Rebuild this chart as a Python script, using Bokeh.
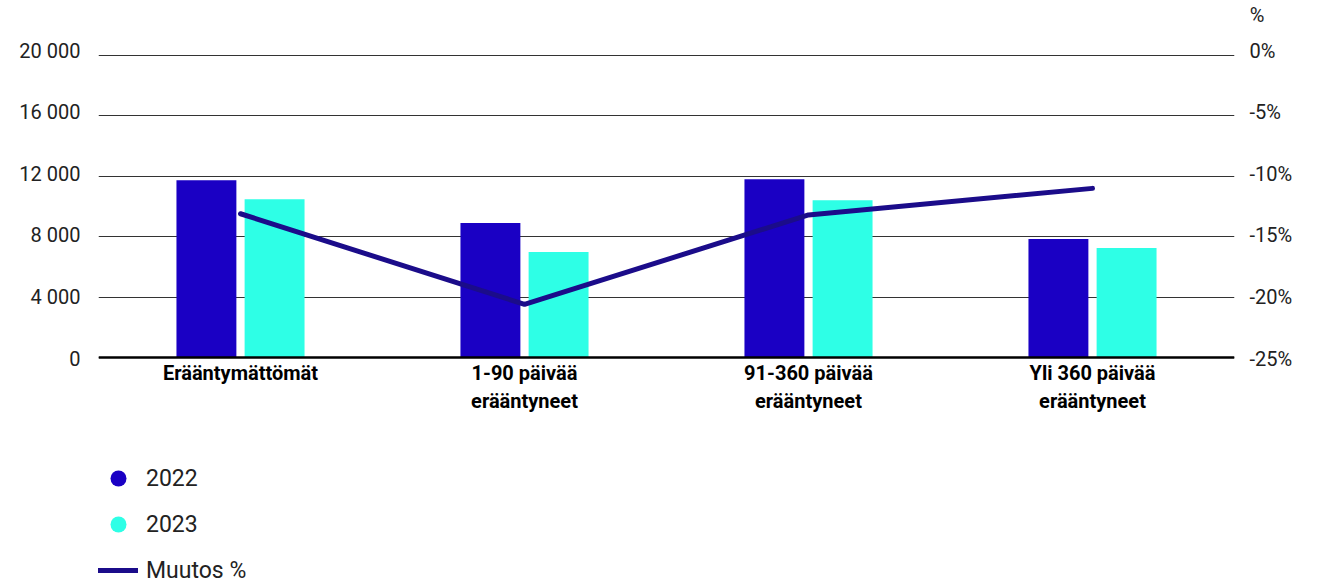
from bokeh.plotting import figure
from bokeh.models import (FactorRange, Range1d, LinearAxis, FixedTicker, Legend,
                          LegendItem, ColumnDataSource, Span)
from bokeh.core.properties import value
from bokeh.transform import dodge
from bokeh.embed import file_html
from bokeh.resources import INLINE

# ---- data ----
categories = ["Erääntymättömät", "1-90 päivää\nerääntyneet",
              "91-360 päivää\nerääntyneet", "Yli 360 päivää\nerääntyneet"]
values_2022 = [11740, 8900, 11800, 7840]
values_2023 = [10480, 6980, 10420, 7250]
change_pct = [-13.1, -20.6, -13.2, -11.0]
left_ticks = [0, 4000, 8000, 12000, 16000, 20000]
right_ticks = [-25, -20, -15, -10, -5, 0]
series_names = ["2022", "2023", "Muutos %"]

C2022 = "#1A00C4"
C2023 = "#2EFFE6"
CLINE = "#1B0C8A"
FONT = "Roboto"

# ---- layout constants (pixels) ----
W, H = 1325, 584
FRAME_TOP = 48
GRID_TOP_PX, GRID_ZERO_PX = 55, 357   # gridlines / bars / line
LBL_TOP_PX, LBL_ZERO_PX = 50, 358     # tick labels are spread slightly wider


def rng(lo, hi, top_px, zero_px):
    k = (zero_px - top_px) / (hi - lo)
    return Range1d(lo - (H - zero_px) / k, hi + (top_px - FRAME_TOP) / k)


source = ColumnDataSource(dict(cat=categories, v2022=values_2022,
                               v2023=values_2023, chg=change_pct))

p = figure(width=W, height=H,
           x_range=FactorRange(factors=categories, range_padding=0),
           y_range=rng(left_ticks[0], left_ticks[-1], GRID_TOP_PX, GRID_ZERO_PX),
           x_axis_location=None,
           output_backend="svg", toolbar_location=None,
           min_border_left=98, min_border_right=91,
           min_border_top=FRAME_TOP, min_border_bottom=0)
p.extra_y_ranges = {
    "pct": rng(right_ticks[0], right_ticks[-1], GRID_TOP_PX, GRID_ZERO_PX),
    "lbl": rng(left_ticks[0], left_ticks[-1], LBL_TOP_PX, LBL_ZERO_PX),
    "pctlbl": rng(right_ticks[0], right_ticks[-1], LBL_TOP_PX, LBL_ZERO_PX),
}
p.outline_line_color = None
p.background_fill_color = "white"
p.border_fill_color = "white"

# grid
p.xgrid.visible = False
p.ygrid.ticker = FixedTicker(ticks=left_ticks)
p.ygrid.grid_line_color = "#333333"
p.ygrid.grid_line_width = 1

# bars
p.vbar(x=dodge("cat", -0.12, range=p.x_range), top="v2022", bottom=0, width=0.211,
       source=source, fill_color=C2022, line_color=None)
p.vbar(x=dodge("cat", 0.12, range=p.x_range), top="v2023", bottom=0, width=0.211,
       source=source, fill_color=C2023, line_color=None)

# baseline
p.add_layout(Span(location=0, dimension="width", line_color="black", line_width=2.5))

line_r = p.line(x="cat", y="chg", y_range_name="pct", source=source,
                line_width=5, line_color=CLINE, line_cap="round", line_join="round")

# category labels under the baseline
p.text(x="cat", y=0, text="cat", source=source, y_offset=3,
       text_align="center", text_baseline="top",
       text_font=value(FONT), text_font_style="bold", text_font_size="20px",
       text_line_height=1.2, text_color="black")

# legend-only markers (size 0 on the plot; the legend draws its own circle)
s22 = p.scatter(x="cat", y="v2022", source=source, marker="circle", size=0,
                fill_color=C2022, line_color=None)
s23 = p.scatter(x="cat", y="v2023", source=source, marker="circle", size=0,
                fill_color=C2023, line_color=None)

legend = Legend(items=[LegendItem(label=series_names[0], renderers=[s22], index=0),
                       LegendItem(label=series_names[1], renderers=[s23], index=0),
                       LegendItem(label=series_names[2], renderers=[line_r])],
                location=(0, -7), orientation="vertical",
                glyph_width=40, glyph_height=42, label_height=42, spacing=4,
                padding=0, margin=0, label_standoff=8,
                border_line_color=None, background_fill_alpha=0,
                label_text_font=FONT, label_text_font_size="23px",
                label_text_color="#222222")
p.add_layout(legend)

# left axis
ya = p.yaxis[0]
ya.y_range_name = "lbl"
ya.ticker = FixedTicker(ticks=left_ticks)
ya.major_label_overrides = {t: f"{t:,}".replace(",", " ") for t in left_ticks}
ya.axis_line_color = None
ya.major_tick_line_color = None
ya.minor_tick_line_color = None
ya.major_label_standoff = 12
ya.major_label_text_font = FONT
ya.major_label_text_font_size = "20px"
ya.major_label_text_color = "#222222"

# right axis
ra = LinearAxis(y_range_name="pctlbl", ticker=FixedTicker(ticks=right_ticks),
                major_label_overrides={t: f"{t}%" for t in right_ticks})
ra.axis_line_color = None
ra.major_tick_line_color = None
ra.minor_tick_line_color = None
ra.major_label_standoff = 9
ra.major_label_text_font = FONT
ra.major_label_text_font_size = "20px"
ra.major_label_text_color = "#222222"
p.add_layout(ra, "right")

# "%" unit label (second empty line lifts it to the top of the canvas)
p.title.text = "%\n "
p.title.align = "right"
p.title.offset = -30
p.title.standoff = 0
p.title.text_line_height = 0.9
p.title.text_font = FONT
p.title.text_font_style = "normal"
p.title.text_font_size = "20px"
p.title.text_color = "#222222"

open("out.html", "w").write(file_html(p, INLINE))
